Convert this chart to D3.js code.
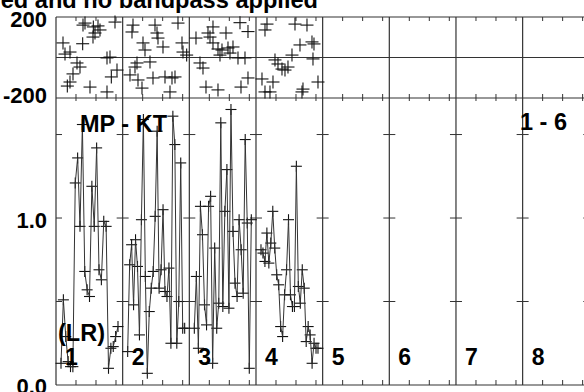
<!DOCTYPE html>
<html>
<head>
<meta charset="utf-8">
<script src="https://cdn.jsdelivr.net/npm/d3@7"></script>
<style>
  body { margin: 0; background: #fff; }
  svg { display: block; }
  text { font-family: "Liberation Sans", Arial, sans-serif; font-weight: bold; fill: #000; }
</style>
</head>
<body>
<div id="chart"></div>
<script>
// panel labels along the bottom
const panelLabels = ["1", "2", "3", "4", "5", "6", "7", "8"];

// top strip: [position inside panel (0-10), value (-200..200)]
const scatter1 = [[4.35, 170], [4.05, 160], [6.3, 156], [5.6, 151], [6.6, 136], [5.85, 121], [5.55, 101], [8.85, 175],
  [1.05, 72], [4.0, 68], [2.1, 27], [1.35, 17], [3.15, -27], [3.6, -47], [2.55, -81], [2.1, -121], [1.7, -141],
  [5.1, -146], [7.65, -170], [8.3, -96], [9.15, -62], [8.1, 2], [7.65, -2]];
const scatter2 = [[1.55, 160], [1.4, 126], [4.85, 160], [5.15, 121], [5.3, 96], [8.3, 170], [8.9, 72], [9.05, 27],
  [3.05, 72], [3.35, 37], [6.05, 52], [4.1, -22], [2.15, -27], [1.85, -47], [1.1, -86], [2.3, -111], [2.9, -151],
  [4.55, -101], [6.35, -96], [7.4, -101], [7.85, -96], [7.1, -170], [9.6, 12]];
const scatter3 = [[3.55, 151], [2.8, 121], [3.1, 101], [5.5, 121], [7.6, 172], [8.8, 128], [1.0, 96], [3.55, 72],
  [4.3, 42], [4.9, 37], [5.8, 47], [6.55, 52], [6.1, 22], [7.3, -2], [8.35, -2], [4.6, 12], [1.6, -27], [2.05, -52],
  [8.8, -101], [7.75, -146], [4.3, -160], [2.5, -146]];
const scatter4 = [[1.65, 165], [1.35, 136], [5.85, 165], [7.65, 160], [6.6, 62], [8.4, 77], [8.7, 67], [2.85, -12],
  [3.3, -32], [3.9, -57], [4.35, -62], [4.8, -47], [5.4, 12], [8.55, -7], [9.3, -121], [7.05, -156], [6.9, -170],
  [2.55, -121], [0.9, -106], [1.35, -170], [2.1, -170]];

// main strip: successive values in each panel
const series1 = [0.13, 0.51, 0.29, 0.14, 0.11, 0.11, 1.21, 1.36, 0.95, 1.56, 0.68, 0.57, 0.53, 1.19,
  0.95, 1.42, 0.69, 0.63, 0.98, 0.95, 0.10, 0.22, 0.23, 0.29, 0.35];
const series2 = [0.20, 0.72, 0.84, 0.48, 0.87, 0.71, 0.30, 0.99, 1.59, 0.65, 0.07, 0.44, 0.58, 0.68,
  1.01, 1.52, 0.58, 0.69, 1.05, 0.56, 0.53, 0.70, 0.25, 1.61, 1.44, 0.25, 0.50, 1.33, 0.34, 0.34];
const series3 = [0.34, 0.65, 0.22, 1.07, 0.90, 0.48, 0.36, 1.07, 1.13, 0.13, 0.82, 0.34, 0.49, 1.57,
  0.47, 1.04, 1.29, 0.46, 1.65, 0.92, 0.61, 0.53, 0.99, 0.81, 0.55, 1.47, 0.97, 0.10, 0.99];
const series4 = [0.81, 0.79, 0.74, 0.91, 0.73, 0.85, 1.04, 0.82, 0.66, 0.60, 0.35, 0.29, 0.54, 0.69,
  0.99, 0.54, 0.47, 0.47, 1.31, 0.59, 0.49, 0.69, 0.58, 0.26, 0.35, 0.30, 0.13, 0.25, 0.22, 0.22];

const scatterSets = [scatter1, scatter2, scatter3, scatter4];
const seriesSets = [series1, series2, series3, series4];

const width = 584, height = 392;
const svg = d3.select("#chart").append("svg")
  .attr("width", width)
  .attr("height", height);

// scales
const xPanel = d3.scaleLinear().domain([0, 8]).range([56, 589.3]);
const panelW = xPanel(1) - xPanel(0);
const xInner = d3.scaleLinear().domain([0, 10]).range([0, panelW]);
const yTop = d3.scaleLinear().domain([-200, 200]).range([98, 17]);
const yBot = d3.scaleLinear().domain([0, 1.72]).range([385, 97.8]);

const frame = svg.append("g").attr("stroke", "#333").attr("stroke-width", 1.2);

// horizontal frame lines
[yTop(200), yTop(0), yTop(-200), yBot(0)].forEach(y => {
  frame.append("line").attr("x1", xPanel(0)).attr("x2", xPanel(8)).attr("y1", y).attr("y2", y);
});

// panel dividers
d3.range(0, 9).forEach(i => {
  frame.append("line").attr("x1", xPanel(i)).attr("x2", xPanel(i))
    .attr("y1", yTop(200)).attr("y2", yBot(0));
});

// small x ticks inside each panel
const ticks = svg.append("g").attr("stroke", "#333").attr("stroke-width", 1);
d3.range(0, 8).forEach(i => {
  [3, 6, 9].forEach(u => {
    const x = xPanel(i) + xInner(u);
    ticks.append("line").attr("x1", x).attr("x2", x).attr("y1", yTop(200)).attr("y2", yTop(200) + 4);
    ticks.append("line").attr("x1", x).attr("x2", x).attr("y1", yTop(-200) - 4).attr("y2", yTop(-200) + 3);
    ticks.append("line").attr("x1", x).attr("x2", x).attr("y1", yBot(0) - 5).attr("y2", yBot(0));
  });
});

// y ticks on the lower strip, crossing each divider
d3.range(0, 9).forEach(i => {
  [0.5, 1.0, 1.5].forEach(v => {
    const x = xPanel(i);
    ticks.append("line")
      .attr("x1", i === 0 ? x : x - 6).attr("x2", x + 6)
      .attr("y1", yBot(v)).attr("y2", yBot(v));
  });
});

// crosses
function cross(g, x, y, w, h) {
  g.append("line").attr("x1", x - w / 2).attr("x2", x + w / 2).attr("y1", y).attr("y2", y);
  g.append("line").attr("x1", x).attr("x2", x).attr("y1", y - h / 2).attr("y2", y + h / 2);
}

const marks = svg.append("g").attr("stroke", "#111").attr("stroke-width", 1.1);

// top strip scatter
scatterSets.forEach((pts, i) => {
  pts.forEach(d => cross(marks, xPanel(i) + xInner(d[0]), yTop(d[1]), 13, 13));
});

// lower strip lines + markers
seriesSets.forEach((vals, i) => {
  const xs = d3.scaleLinear().domain([0, vals.length - 1]).range([xPanel(i) + 5, xPanel(i) + 62]);
  const line = d3.line().x((d, j) => xs(j)).y(d => yBot(d));
  svg.append("path")
    .attr("d", line(vals))
    .attr("fill", "none")
    .attr("stroke", "#333")
    .attr("stroke-width", 1);
  vals.forEach((v, j) => cross(marks, xs(j), yBot(v), 11, 11));
});

// y labels
const yLabels = [
  { t: "200", y: 27 },
  { t: "-200", y: yTop(-200) + 5 },
  { t: "1.0", y: yBot(1.0) + 10 },
  { t: "0.0", y: yBot(0) + 9 }
];
svg.selectAll(".ylab").data(yLabels).enter().append("text")
  .attr("class", "ylab")
  .attr("x", 47).attr("y", d => d.y)
  .attr("text-anchor", "end")
  .style("font-size", "22px")
  .text(d => d.t);

// panel numbers
svg.selectAll(".pnum").data(panelLabels).enter().append("text")
  .attr("class", "pnum")
  .attr("x", (d, i) => xPanel(i) + 9)
  .attr("y", 365)
  .style("font-size", "23px")
  .text(d => d);

// annotations
svg.append("text").attr("x", 80).attr("y", 132).style("font-size", "23.5px").text("MP - KT");
svg.append("text").attr("x", 520).attr("y", 130).style("font-size", "23.5px").text("1 - 6");
svg.append("text").attr("x", 58).attr("y", 341).style("font-size", "23.5px").text("(LR)");

// title, clipped by the top edge
svg.append("text").attr("x", 318).attr("y", 8)
  .attr("text-anchor", "end")
  .style("font-size", "23.6px")
  .text("Linear trend removed and no bandpass applied");
</script>
</body>
</html>
